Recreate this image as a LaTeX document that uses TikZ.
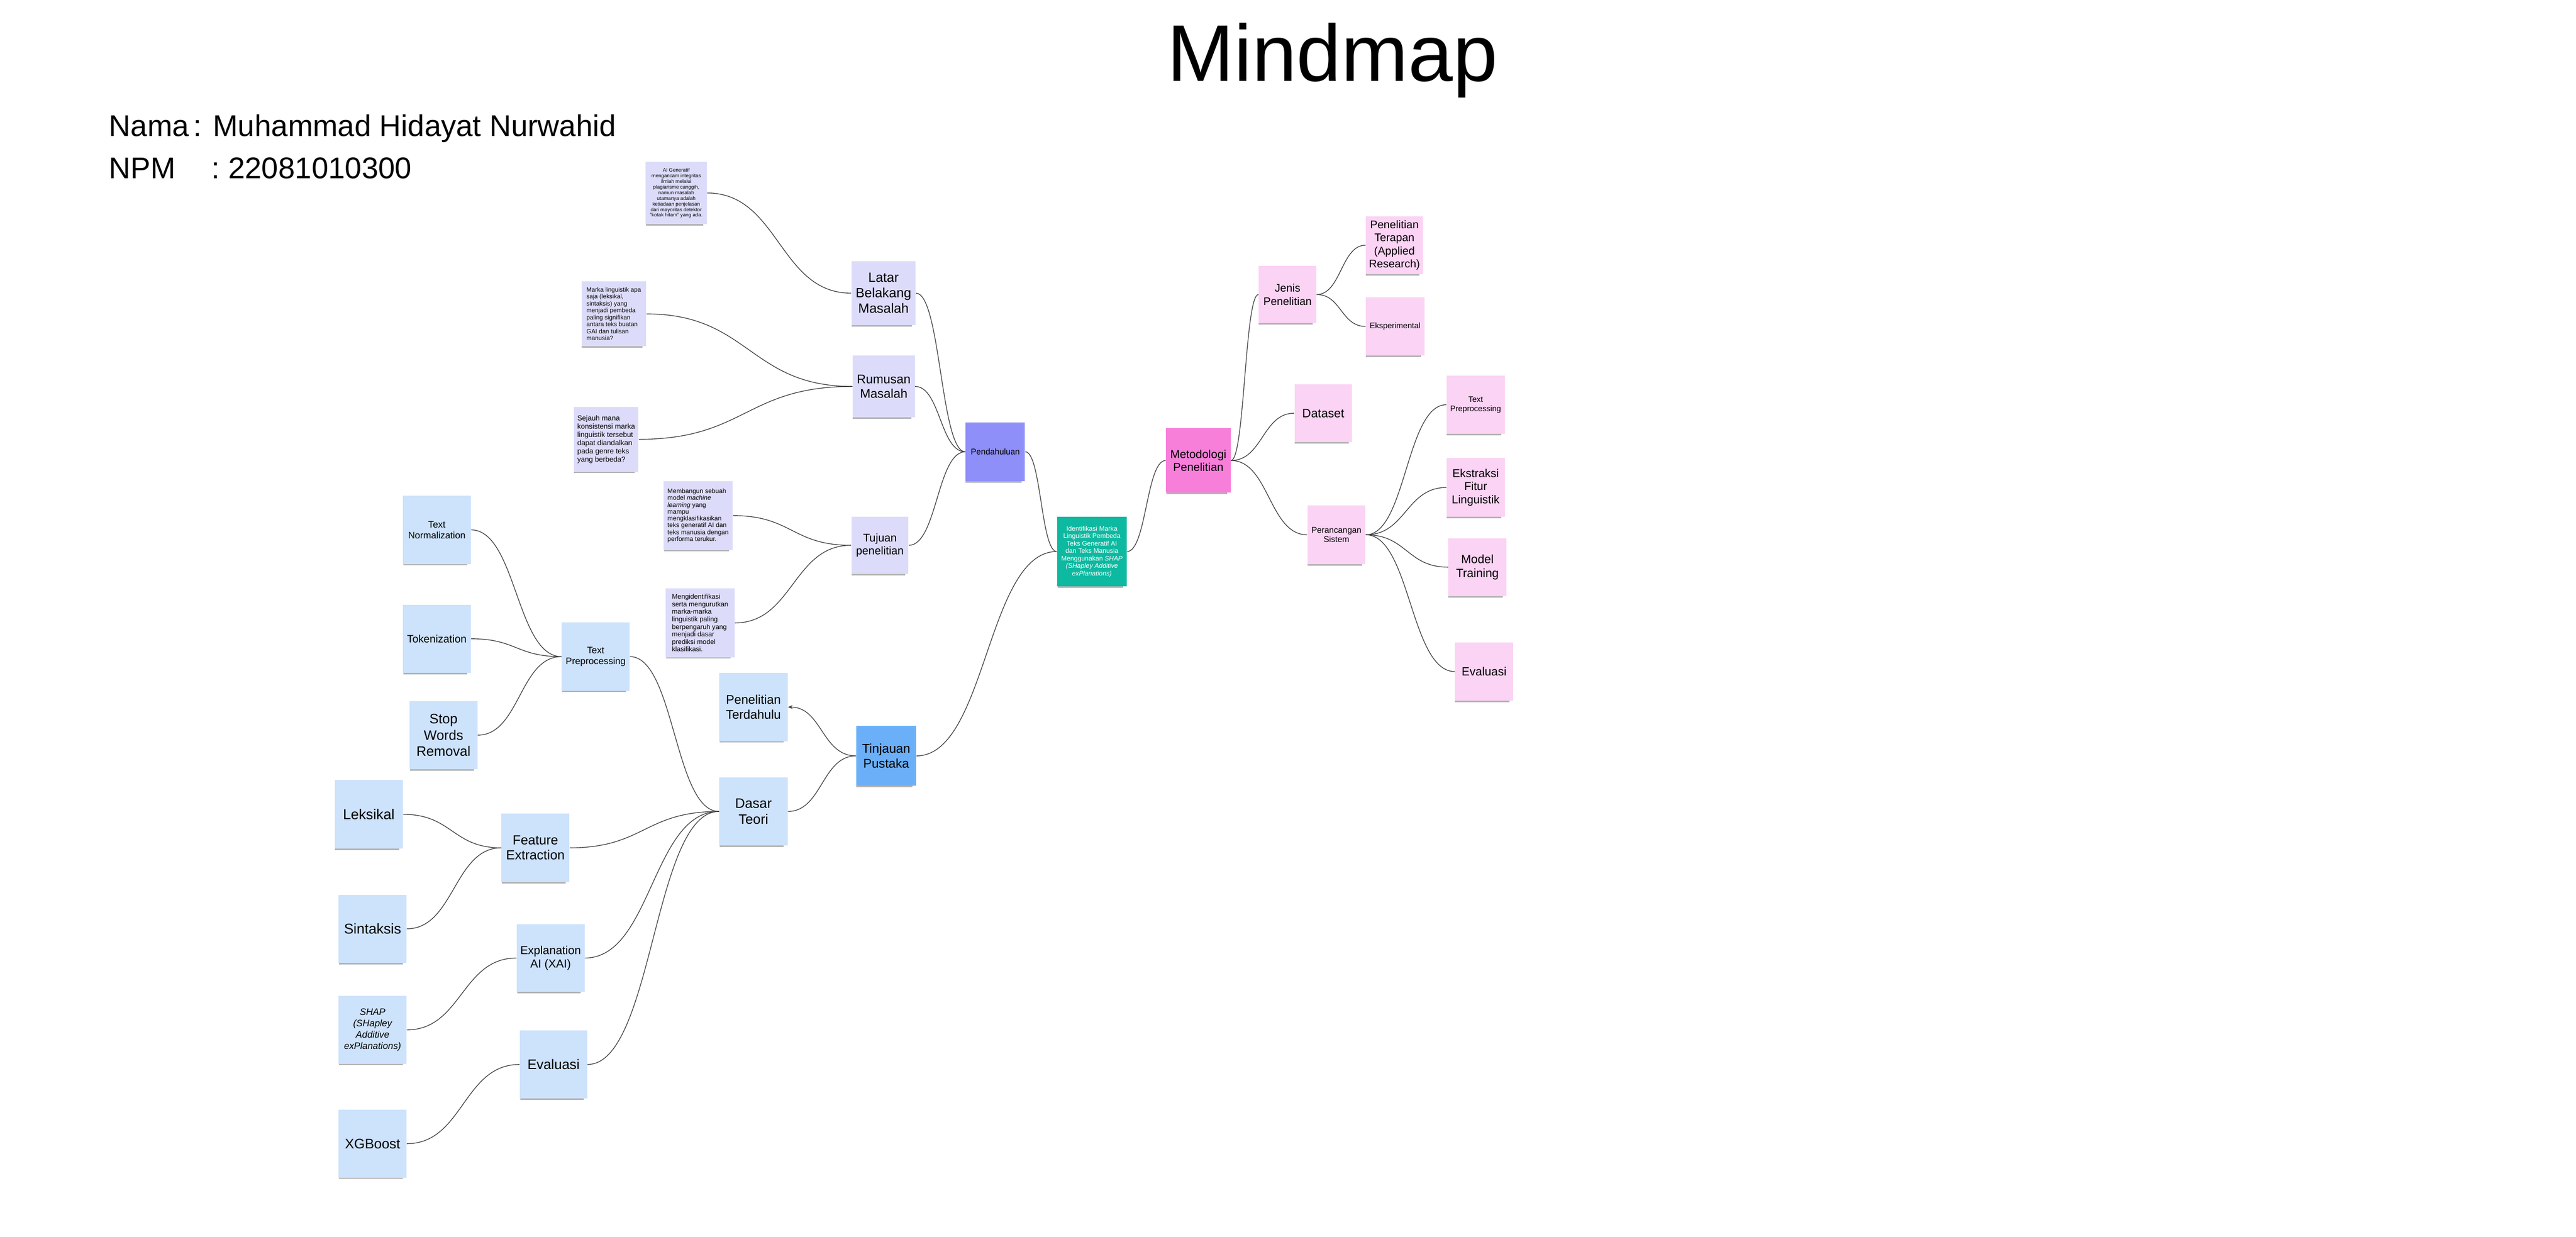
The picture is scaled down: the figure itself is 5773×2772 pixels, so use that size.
\documentclass[tikz,border=0pt]{standalone}
\usepackage{fontspec}
\setmainfont{Liberation Sans}
\usetikzlibrary{shadows,arrows.meta,calc}
\definecolor{lavnote}{HTML}{DCDCFA}
\definecolor{pendnote}{HTML}{8E8FF8}
\definecolor{mainnote}{HTML}{0DB9A0}
\definecolor{pinknote}{HTML}{FBD3F4}
\definecolor{metnote}{HTML}{F77FDA}
\definecolor{bluenote}{HTML}{CDE2FB}
\definecolor{tinjnote}{HTML}{6AAFF8}
\newcommand{\nfont}[2]{\fontsize{#1}{#2}\selectfont}
\tikzset{
  note/.style={rectangle, inner sep=0pt, align=center,
    drop shadow={shadow scale=0.94, shadow xshift=-0.04cm, shadow yshift=-0.08cm, opacity=0.3, fill=black}},
  sz/.style 2 args={minimum width=#1, minimum height=#2},
  link/.style={draw=black!75, line width=0.45pt},
  hlink/.style={link, to path={let \p1=(\tikztostart), \p2=(\tikztotarget), \n1={0.5*(\x2-\x1)} in .. controls +(\n1,0pt) and +(-\n1,0pt) .. (\tikztotarget)}},
}
\begin{document}
\begin{tikzpicture}[x=0.01cm,y=-0.01cm]
\fill[white] (0,0) rectangle (5773,2772);

\node[anchor=base west, inner sep=0pt, font=\nfont{51.2pt}{60pt}] (title) at (2615,182) {Mindmap};
\node[anchor=base west, inner sep=0pt, font=\nfont{19.1pt}{23pt}] (nama) at (244,305) {Nama\hspace{0.15em}: Muhammad Hidayat Nurwahid};
\node[anchor=base west, inner sep=0pt, font=\nfont{19.1pt}{23pt}] (npm) at (244,400) {NPM\hspace{1.2em}: 22081010300};

% pendahuluan
\node[note, fill=lavnote, sz={1.37cm}{1.39cm}, font=\nfont{3.2pt}{3.6pt}] (latarisi) at (1515.5,432.5) {AI Generatif\\mengancam integritas\\ilmiah melalui\\plagiarisme canggih,\\namun masalah\\utamanya adalah\\ketiadaan penjelasan\\dari mayoritas detektor\\"kotak hitam" yang ada.};
\node[note, fill=lavnote, sz={1.45cm}{1.45cm}, align=left, font=\nfont{3.93pt}{4.44pt}] (marka) at (1375.5,703.5) {Marka linguistik apa\\saja (leksikal,\\sintaksis) yang\\menjadi pembeda\\paling signifikan\\antara teks buatan\\GAI dan tulisan\\manusia?};
\node[note, fill=lavnote, sz={1.45cm}{1.45cm}, align=left, font=\nfont{4.6pt}{5.26pt}] (sejauh) at (1358.5,984.5) {Sejauh mana\\konsistensi marka\\linguistik tersebut\\dapat diandalkan\\pada genre teks\\yang berbeda?};
\node[note, fill=lavnote, sz={1.55cm}{1.55cm}, align=left, font=\nfont{4.1pt}{4.35pt}] (membangun) at (1564.5,1155.5) {Membangun sebuah\\model \textit{machine}\\\textit{learning} yang\\mampu\\mengklasifikasikan\\teks generatif AI dan\\teks manusia dengan\\performa terukur.};
\node[note, fill=lavnote, sz={1.54cm}{1.54cm}, align=left, font=\nfont{4.3pt}{4.78pt}] (mengid) at (1569,1396) {Mengidentifikasi\\serta mengurutkan\\marka-marka\\linguistik paling\\berpengaruh yang\\menjadi dasar\\prediksi model\\klasifikasi.};
\node[note, fill=lavnote, sz={1.44cm}{1.44cm}, font=\nfont{8.5pt}{9.8pt}] (latar) at (1980,657) {Latar\\Belakang\\Masalah};
\node[note, fill=lavnote, sz={1.39cm}{1.38cm}, font=\nfont{8pt}{9.4pt}] (rumusan) at (1980.5,866) {Rumusan\\Masalah};
\node[note, fill=lavnote, sz={1.28cm}{1.28cm}, font=\nfont{7.1pt}{8.3pt}] (tujuan) at (1972,1222) {Tujuan\\penelitian};
\node[note, fill=pendnote, sz={1.33cm}{1.31cm}, font=\nfont{5.3pt}{6.2pt}] (pend) at (2230.5,1012.5) {Pendahuluan};

\node[note, fill=mainnote, text=white, sz={1.56cm}{1.56cm}, font=\nfont{4.18pt}{4.75pt}] (utama) at (2447,1236) {Identifikasi Marka\\Linguistik Pembeda\\Teks Generatif AI\\dan Teks Manusia\\Menggunakan \textit{SHAP}\\\textit{(SHapley Additive}\\\textit{exPlanations)}};

% metodologi
\node[note, fill=metnote, sz={1.45cm}{1.44cm}, font=\nfont{7.3pt}{8.1pt}] (metod) at (2685.5,1032) {Metodologi\\Penelitian};
\node[note, fill=pinknote, sz={1.29cm}{1.28cm}, font=\nfont{7pt}{8.4pt}] (jenis) at (2885.5,660) {Jenis\\Penelitian};
\node[note, fill=pinknote, sz={1.28cm}{1.29cm}, font=\nfont{7.05pt}{8.4pt}] (terapan) at (3125,549.5) {Penelitian\\Terapan\\(Applied\\Research)};
\node[note, fill=pinknote, sz={1.31cm}{1.31cm}, font=\nfont{5.1pt}{6pt}] (eksp) at (3126.5,731.5) {Eksperimental};
\node[note, fill=pinknote, sz={1.29cm}{1.30cm}, font=\nfont{7.77pt}{9pt}] (dataset) at (2965.5,926) {Dataset};
\node[note, fill=pinknote, sz={1.30cm}{1.31cm}, font=\nfont{5.35pt}{6pt}] (peranc) at (2995,1198.5) {Perancangan\\Sistem};
\node[note, fill=pinknote, sz={1.30cm}{1.30cm}, font=\nfont{5.06pt}{5.95pt}] (prepm) at (3307,907) {Text\\Preprocessing};
\node[note, fill=pinknote, sz={1.30cm}{1.31cm}, font=\nfont{7.3pt}{8.35pt}] (ekstr) at (3307,1092.5) {Ekstraksi\\Fitur\\Linguistik};
\node[note, fill=pinknote, sz={1.30cm}{1.30cm}, font=\nfont{7.6pt}{9pt}] (model) at (3311,1271) {Model\\Training};
\node[note, fill=pinknote, sz={1.30cm}{1.30cm}, font=\nfont{7.55pt}{9pt}] (evalm) at (3326,1505) {Evaluasi};

% tinjauan pustaka
\node[note, fill=tinjnote, sz={1.34cm}{1.34cm}, font=\nfont{8.08pt}{9.4pt}] (tinjauan) at (1986,1694) {Tinjauan\\Pustaka};
\node[note, fill=bluenote, sz={1.53cm}{1.53cm}, font=\nfont{7.97pt}{9.5pt}] (terdahulu) at (1688.5,1584.5) {Penelitian\\Terdahulu};
\node[note, fill=bluenote, sz={1.53cm}{1.53cm}, font=\nfont{8.73pt}{10.4pt}] (dasar) at (1688.5,1818.5) {Dasar\\Teori};
\node[note, fill=bluenote, sz={1.52cm}{1.53cm}, font=\nfont{5.97pt}{7pt}] (prept) at (1335,1471.5) {Text\\Preprocessing};
\node[note, fill=bluenote, sz={1.52cm}{1.53cm}, font=\nfont{5.97pt}{7pt}] (normal) at (979,1187.5) {Text\\Normalization};
\node[note, fill=bluenote, sz={1.52cm}{1.53cm}, font=\nfont{6.83pt}{8pt}] (token) at (979,1431.5) {Tokenization};
\node[note, fill=bluenote, sz={1.52cm}{1.53cm}, font=\nfont{8.73pt}{10.4pt}] (stopw) at (994,1647.5) {Stop\\Words\\Removal};
\node[note, fill=bluenote, sz={1.52cm}{1.54cm}, font=\nfont{8.4pt}{9.4pt}] (featx) at (1200,1900) {Feature\\Extraction};
\node[note, fill=bluenote, sz={1.53cm}{1.54cm}, font=\nfont{9.1pt}{10.5pt}] (leksikal) at (826.5,1825) {Leksikal};
\node[note, fill=bluenote, sz={1.52cm}{1.53cm}, font=\nfont{9.1pt}{10.5pt}] (sintaksis) at (835,2081.5) {Sintaksis};
\node[note, fill=bluenote, sz={1.52cm}{1.52cm}, font=\nfont{7.4pt}{8.4pt}] (xai) at (1234,2147) {Explanation\\AI (XAI)};
\node[note, fill=bluenote, sz={1.52cm}{1.52cm}, font=\nfont{6pt}{7.3pt}\itshape] (shap) at (835,2308) {SHAP\\(SHapley\\Additive\\exPlanations)};
\node[note, fill=bluenote, sz={1.51cm}{1.53cm}, font=\nfont{8.8pt}{10pt}] (evalb) at (1240.5,2385.5) {Evaluasi};
\node[note, fill=bluenote, sz={1.52cm}{1.52cm}, font=\nfont{8.8pt}{10pt}] (xgb) at (835,2563) {XGBoost};

\draw[hlink] (latarisi.east) to (latar.west);
\draw[hlink] (marka.east) to (rumusan.west);
\draw[hlink] (sejauh.east) to (rumusan.west);
\draw[hlink] (membangun.east) to (tujuan.west);
\draw[hlink] (mengid.east) to (tujuan.west);
\draw[hlink] (latar.east) to (pend.west);
\draw[hlink] (rumusan.east) to (pend.west);
\draw[hlink] (tujuan.east) to (pend.west);
\draw[hlink] (pend.east) to (utama.west);
\draw[hlink] (tinjauan.east) to (utama.west);

\draw[hlink] (utama.east) to (metod.west);
\draw[hlink] (metod.east) to (jenis.west);
\draw[hlink] (metod.east) to (dataset.west);
\draw[hlink] (metod.east) to (peranc.west);
\draw[hlink] (jenis.east) to (terapan.west);
\draw[hlink] (jenis.east) to (eksp.west);
\draw[hlink] (peranc.east) to (prepm.west);
\draw[hlink] (peranc.east) to (ekstr.west);
\draw[hlink] (peranc.east) to (model.west);
\draw[hlink] (peranc.east) to (evalm.west);

\draw[hlink, -{Stealth[length=3pt,width=2.4pt]}] (tinjauan.west) to (terdahulu.east);
\draw[hlink] (dasar.east) to (tinjauan.west);
\draw[hlink] (prept.east) to (dasar.west);
\draw[hlink] (featx.east) to (dasar.west);
\draw[hlink] (xai.east) to (dasar.west);
\draw[hlink] (evalb.east) to (dasar.west);
\draw[hlink] (normal.east) to (prept.west);
\draw[hlink] (token.east) to (prept.west);
\draw[hlink] (stopw.east) to (prept.west);
\draw[hlink] (leksikal.east) to (featx.west);
\draw[hlink] (sintaksis.east) to (featx.west);
\draw[hlink] (shap.east) to (xai.west);
\draw[hlink] (xgb.east) to (evalb.west);

\end{tikzpicture}
\end{document}
